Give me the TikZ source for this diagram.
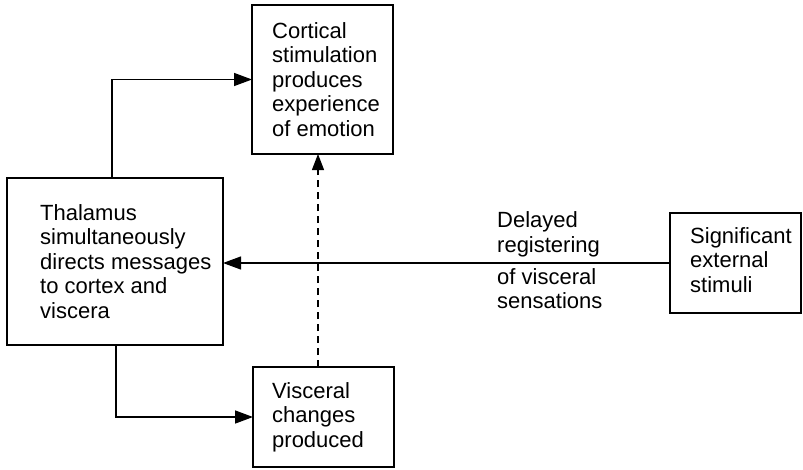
\documentclass[tikz,border=0pt]{standalone}
\usepackage{fontspec}
\setmainfont{Liberation Sans}
\usetikzlibrary{arrows.meta}
\begin{document}
\begin{tikzpicture}[x=1pt,y=-1pt,
  txt/.style={font=\fontsize{22}{24.5}\selectfont, align=left, inner sep=0pt},
  box/.style={draw, line width=1.5pt, inner sep=0pt, outer sep=0pt},
  tip/.style={-{Triangle[length=18pt,width=13pt]}},
  flow/.style={line width=1.5pt, tip},
  feedback/.style={line width=1.1pt, dash pattern=on 7pt off 5pt, -{Triangle[length=16pt,width=12pt]}}]
  \useasboundingbox (0,0) rectangle (803,469);

  % boxes
  \node[box, minimum width=141pt, minimum height=149pt] (cort) at (322.5,79.5) {};
  \node[box, minimum width=216pt, minimum height=167pt] (thal) at (115,261.5) {};
  \node[box, minimum width=141pt, minimum height=100pt] (visc) at (323.5,417) {};
  \node[box, minimum width=131pt, minimum height=100pt] (sig) at (735.5,263) {};

  % box texts
  \node[txt, anchor=west] (cortT) at ([xshift=20pt]cort.west) {Cortical\\stimulation\\produces\\experience\\of emotion};
  \node[txt, anchor=west] (thalT) at ([xshift=33pt]thal.west) {Thalamus\\simultaneously\\directs messages\\to cortex and\\viscera};
  \node[txt, anchor=west] (viscT) at ([xshift=19pt]visc.west) {Visceral\\changes\\produced};
  \node[txt, anchor=west, yshift=3pt] (sigT) at ([xshift=20pt]sig.west) {Significant\\external\\stimuli};

  % routing points
  \coordinate (up) at (112,77);
  \coordinate (down) at (116,421);
  \coordinate (dash) at (318,0);

  % connectors
  \draw[flow] (thal.north -| up) |- (cort.west);
  \draw[flow] (thal.south -| down) |- (visc.west);
  \draw[feedback] (visc.north -| dash) -- (cort.south -| dash);
  \draw[line width=1.2pt, tip] (sig.west) -- (sig.west -| thal.east);

  % labels on the horizontal line
  \node[txt, anchor=south west] (lab1) at (497,257) {Delayed\\registering};
  \node[txt, anchor=north west] (lab2) at (497,268) {of visceral\\sensations};
\end{tikzpicture}
\end{document}
